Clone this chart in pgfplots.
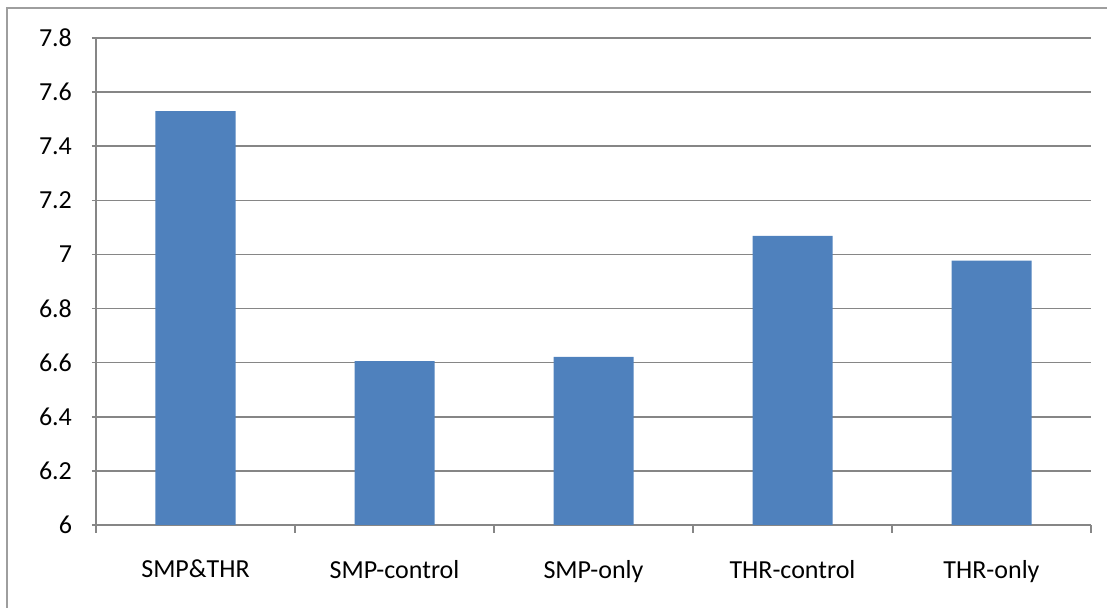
\documentclass[border=0pt]{standalone}
\usepackage{fontspec}
\setmainfont{Carlito}
\usepackage{pgfplots}
\pgfplotsset{compat=1.18}
\definecolor{barblue}{HTML}{4F81BD}
\definecolor{gridgray}{HTML}{868686}
\begin{document}
\begin{tikzpicture}[x=1pt,y=1pt]
% outer chart frame (cropped at right and bottom)
\draw[gridgray!80, line width=0.8pt] (3.5,-10) -- (3.5,300) -- (570,300);
\begin{axis}[
    at={(48pt,41.5pt)}, anchor=south west,
    scale only axis,
    width=497.5pt, height=243.5pt,
    ymin=6, ymax=7.8,
    ytick={6,6.2,...,7.8},
    yticklabels={6,6.2,6.4,6.6,6.8,7,7.2,7.4,7.6,7.8},
    xmin=-0.5, xmax=4.5,
    xtick={0,1,2,3,4},
    xticklabels={SMP\&THR, SMP-control, SMP-only, THR-control, THR-only},
    minor xtick={-0.5,0.5,1.5,2.5,3.5,4.5},
    major x tick style={draw=none},
    minor x tick style={gridgray, line width=0.8pt},
    y tick style={gridgray, line width=0.8pt},
    tick align=outside,
    major tick length=4pt, minor tick length=4pt,
    axis x line=bottom, axis y line=left,
    axis line style={gridgray, line width=0.8pt, -},
    ymajorgrids,
    grid style={gridgray, line width=0.8pt},
    font=\fontsize{13}{15.5}\selectfont,
    /pgf/number format/assume math mode=true,
    xticklabel style={yshift=-10pt},
    yticklabel style={xshift=-6.5pt},
    ybar, bar width=40pt, bar shift=0pt,
    clip=false,
]
\addplot[fill=barblue, draw=none] coordinates {
    (0,7.53) (1,6.606) (2,6.621) (3,7.069) (4,6.977)
};
\end{axis}
\pgfresetboundingbox
\useasboundingbox (0,0) rectangle (553.5,304);
\end{tikzpicture}
\end{document}
